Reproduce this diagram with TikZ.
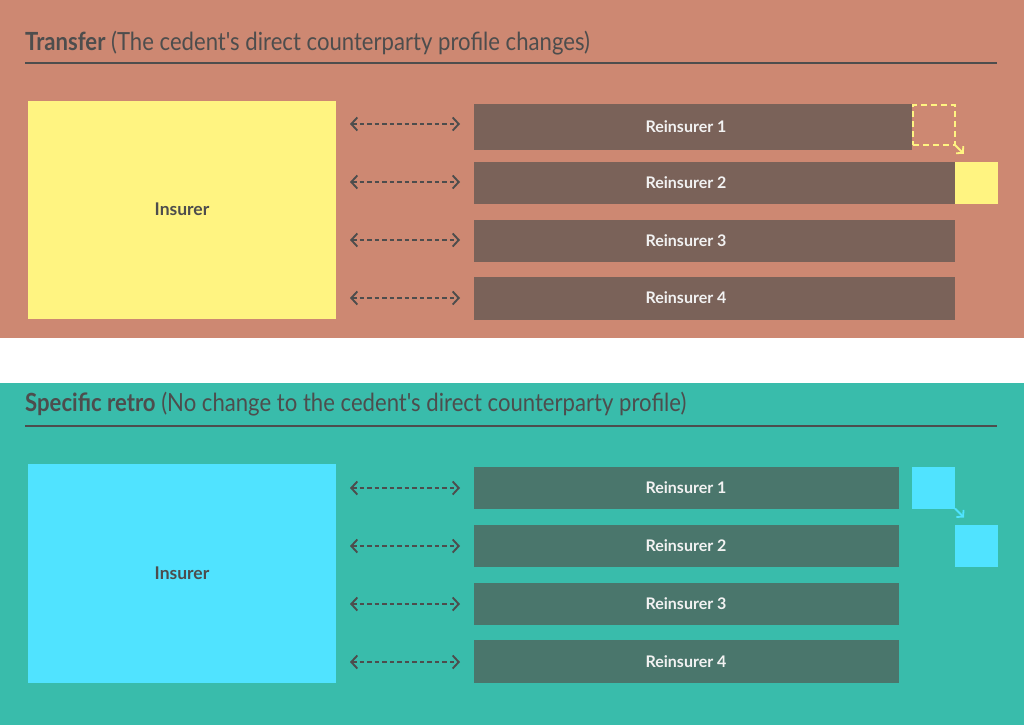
\documentclass[tikz,border=0pt]{standalone}
\usepackage{fontspec}
\setmainfont{Lato}
\newfontfamily\titlefont[FakeStretch=0.885]{Lato}
\usetikzlibrary{arrows.meta,calc}
\definecolor{topbg}{HTML}{CD8872}
\definecolor{botbg}{HTML}{39BCAB}
\definecolor{topbar}{HTML}{7A6259}
\definecolor{botbar}{HTML}{4A766C}
\definecolor{ylw}{HTML}{FFF481}
\definecolor{cyn}{HTML}{50E3FF}
\definecolor{ink}{HTML}{4D4D4D}
\definecolor{barink}{HTML}{F2F2F2}
\tikzset{
  box/.style={anchor=north west,inner sep=0pt,outer sep=0pt},
  insurerbox/.style={box,minimum width=308pt,minimum height=218pt},
  barbox/.style={box,minimum height=43pt},
  sq/.style={box,minimum width=43pt,minimum height=42pt},
  barlabel/.style={text=barink,font=\fontsize{16}{18}\selectfont\bfseries},
  inslabel/.style={text=ink,font=\fontsize{17.5}{20}\selectfont\bfseries},
  titletext/.style={anchor=base west,inner sep=0pt,text=ink,font=\titlefont\fontsize{25}{30}\selectfont},
  link/.style={draw=ink,line width=1.9pt,dash pattern=on 4.5pt off 3pt,
    {Straight Barb[length=6pt,width=13pt,line width=1.9pt]}-{Straight Barb[length=6pt,width=13pt,line width=1.9pt]}},
  moveyl/.style={draw=ylw,line width=1.8pt,-{Straight Barb[length=4.5pt,width=10pt]}},
  movecy/.style={draw=cyn,line width=1.8pt,-{Straight Barb[length=4.5pt,width=10pt]}},
}
\begin{document}
\begin{tikzpicture}[x=1pt,y=-1pt]
\useasboundingbox (0,0) rectangle (1024,725);
\fill[topbg] (0,0) rectangle (1024,338);
\fill[white] (0,338) rectangle (1024,383);
\fill[botbg] (0,383) rectangle (1024,725);

% ---------- top: Transfer ----------
\node[titletext] (t1) at (25,50.7) {\textbf{Transfer} (The cedent's direct counterparty profile changes)};
\coordinate (l1a) at (25,63);
\coordinate (l1b) at (997,63);
\draw[ink,line width=2pt] (l1a) -- (l1b);

\node[insurerbox,fill=ylw] (ins1) at (28,101) {};
\node[inslabel] (ins1t) at (182,209.5) {Insurer};

\node[barbox,fill=topbar,minimum width=438pt,minimum height=46pt] (a1) at (474,103.5) {};
\node[barbox,fill=topbar,minimum width=481pt,minimum height=42pt] (a2) at (474,161.5) {};
\node[barbox,fill=topbar,minimum width=481pt,minimum height=42pt] (a3) at (474,219.5) {};
\node[barbox,fill=topbar,minimum width=481pt,minimum height=42.5pt] (a4) at (474,277) {};
\node[barlabel] at (686,126.5) {Reinsurer 1};
\node[barlabel] at (686,182.5) {Reinsurer 2};
\node[barlabel] at (686,240.5) {Reinsurer 3};
\node[barlabel] at (686,298) {Reinsurer 4};

\foreach \yy in {124,182,240,298}{
  \draw[link] (350,\yy) -- (460,\yy);
}

\node[sq,draw=ylw,line width=1.6pt,dash pattern=on 6pt off 4pt,minimum width=42pt,minimum height=40pt] (ds) at (912.75,104.75) {};
\node[sq,fill=ylw] (ys) at (954.5,161.5) {};
\draw[moveyl] (ds.south east) -- ++(9,9);

% ---------- bottom: Specific retro ----------
\node[titletext] (t2) at (25,411.5) {\textbf{Specific retro} (No change to the cedent's direct counterparty profile)};
\coordinate (l2a) at (25,426);
\coordinate (l2b) at (997,426);
\draw[ink,line width=2pt] (l2a) -- (l2b);

\node[insurerbox,fill=cyn,minimum height=219pt] (ins2) at (28,464) {};
\node[inslabel] (ins2t) at (182,573) {Insurer};

\node[barbox,fill=botbar,minimum width=425pt,minimum height=42pt] (b1) at (474,466.5) {};
\node[barbox,fill=botbar,minimum width=425pt,minimum height=42pt] (b2) at (474,524.5) {};
\node[barbox,fill=botbar,minimum width=425pt,minimum height=42pt] (b3) at (474,582.5) {};
\node[barbox,fill=botbar,minimum width=425pt,minimum height=42.5pt] (b4) at (474,640.2) {};
\node[barlabel] at (686,487.5) {Reinsurer 1};
\node[barlabel] at (686,545.5) {Reinsurer 2};
\node[barlabel] at (686,603.5) {Reinsurer 3};
\node[barlabel] at (686,661.5) {Reinsurer 4};

\foreach \yy in {488,546,604,662}{
  \draw[link] (350,\yy) -- (460,\yy);
}

\node[sq,fill=cyn] (cs1) at (912,466.5) {};
\node[sq,fill=cyn] (cs2) at (954.5,524.5) {};
\draw[movecy] (cs1.south east) -- ++(9,9);
\end{tikzpicture}
\end{document}
